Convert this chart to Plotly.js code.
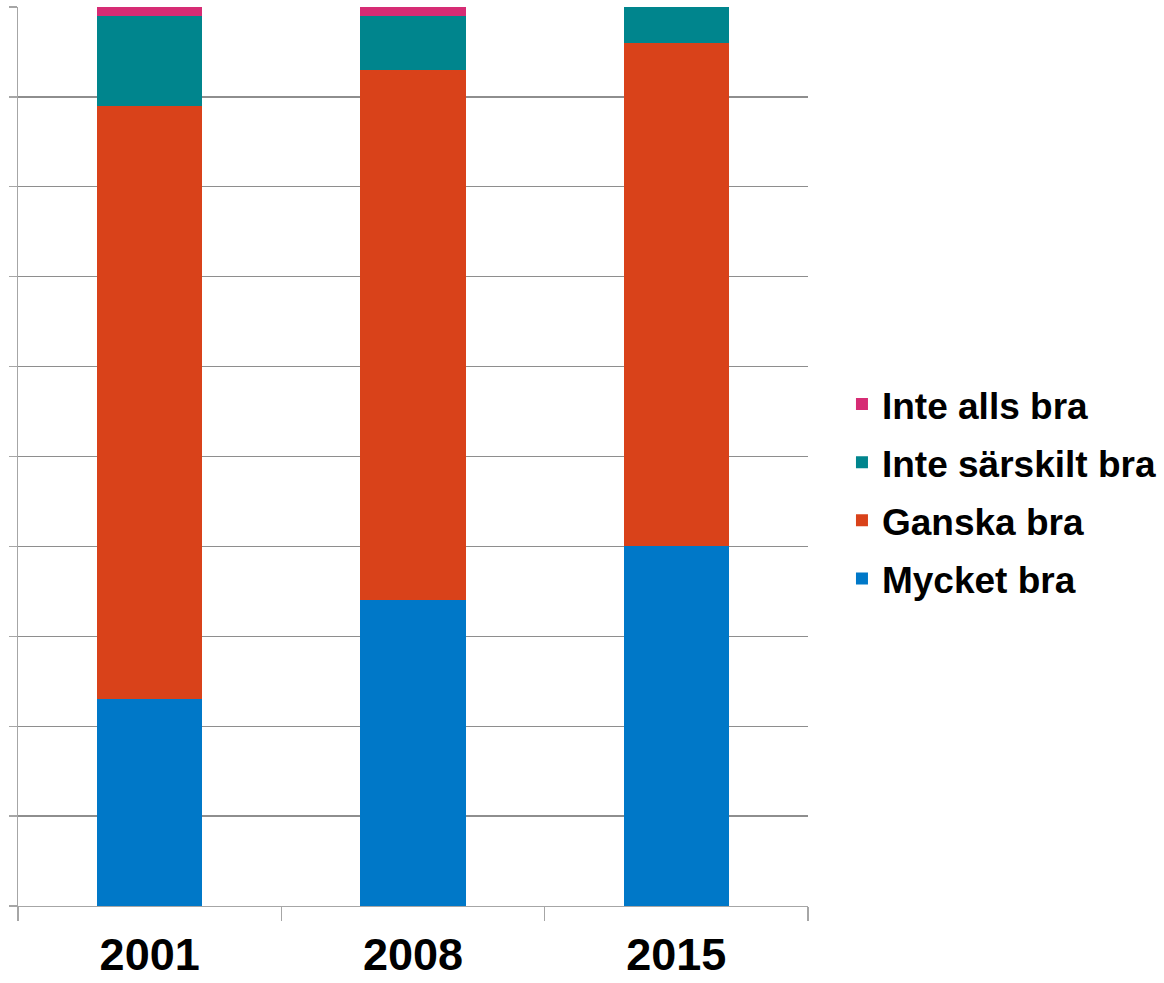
<!DOCTYPE html>
<html>
<head>
<meta charset="utf-8">
<script src="https://cdn.plot.ly/plotly-3.0.1.min.js"></script>
<style>html,body{margin:0;padding:0;background:#fff;}#chart{width:1164px;height:983px;}</style>
</head>
<body>
<div id="chart"></div>
<script>
var years = ["2001", "2008", "2015"];
var seriesNames = ["Mycket bra", "Ganska bra", "Inte särskilt bra", "Inte alls bra"];
var mycketBra = [23, 34, 40];
var ganskaBra = [66, 59, 56];
var inteSarskiltBra = [10, 6, 4];
var inteAllsBra = [1, 1, 0];
var seriesColors = ["#0078c8", "#d9421a", "#00858d", "#d62c74"];

var values = [mycketBra, ganskaBra, inteSarskiltBra, inteAllsBra];
var traces = values.map(function (v, i) {
  return {
    type: "bar",
    x: years,
    y: v,
    name: seriesNames[i],
    legendgroup: "g" + i,
    legendrank: 1000 - i,
    marker: { color: seriesColors[i], line: { width: 0 } },
    hoverinfo: "x+y+name"
  };
});

var layout = {
  width: 1164,
  height: 983,
  barmode: "stack",
  bargap: 0.6,
  margin: { l: 18, r: 356, t: 7, b: 77, pad: 0, autoexpand: false },
  paper_bgcolor: "#ffffff",
  plot_bgcolor: "#ffffff",
  font: { family: "Liberation Sans, Arial, sans-serif", color: "#000000" },
  xaxis: {
    type: "category",
    tickson: "boundaries",
    ticks: "outside",
    ticklen: 14,
    tickcolor: "#a6a6a6",
    tickwidth: 1.3,
    ticklabelstandoff: 9,
    showline: true,
    linecolor: "#a6a6a6",
    linewidth: 1.3,
    showgrid: false,
    tickfont: { size: 45, family: "Liberation Sans, Arial, sans-serif", weight: "bold", color: "#000" },
    fixedrange: true
  },
  yaxis: {
    range: [0, 100],
    dtick: 10,
    tick0: 0,
    ticks: "outside",
    ticklen: 8,
    tickcolor: "#a6a6a6",
    tickwidth: 1.3,
    showticklabels: false,
    showline: true,
    linecolor: "#a6a6a6",
    linewidth: 1.3,
    showgrid: true,
    gridcolor: "#8e8e8e",
    gridwidth: 1.3,
    zeroline: false,
    fixedrange: true
  },
  showlegend: true,
  legend: {
    x: 1.043,
    xanchor: "left",
    y: 0.461,
    yanchor: "middle",
    traceorder: "grouped",
    tracegroupgap: 7,
    font: { size: 37, family: "Liberation Sans, Arial, sans-serif", weight: "bold", color: "#000" },
    bgcolor: "rgba(0,0,0,0)",
    itemwidth: 30
  }
};

Plotly.newPlot("chart", traces, layout, { displayModeBar: false, staticPlot: true });
</script>
</body>
</html>
